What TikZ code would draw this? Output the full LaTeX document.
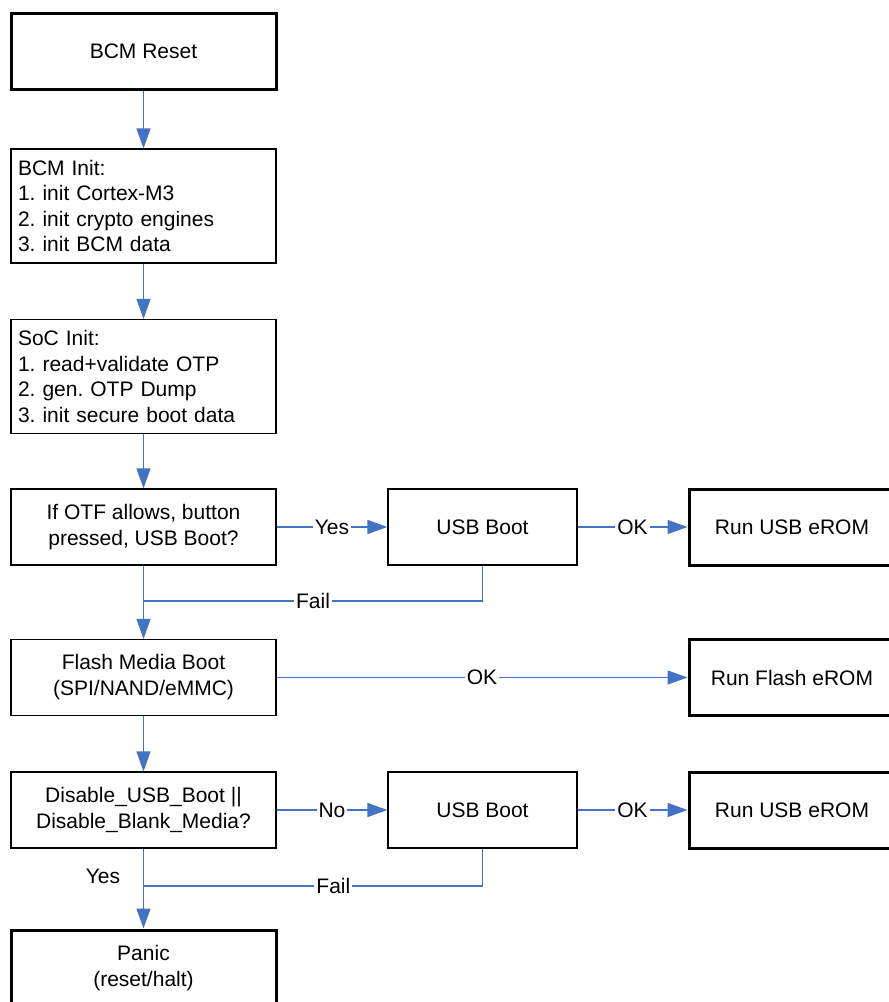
\documentclass[tikz,border=0pt]{standalone}
\usepackage{fontspec}
\setmainfont{Liberation Sans}
\usetikzlibrary{arrows.meta}
\definecolor{flow}{RGB}{68,114,196}
\frenchspacing
\begin{document}
\begin{tikzpicture}[x=1pt,y=-1pt,
  every node/.style={font=\fontsize{21}{26}\selectfont},
  box/.style={draw, line width=1.2pt, minimum width=265pt, minimum height=76pt, align=center, inner sep=0pt},
  heavy/.style={box, line width=3pt},
  listbox/.style={box, minimum height=114pt, align=left, text width=251pt, font=\fontsize{21}{25.5}\selectfont},
  sidebox/.style={box, minimum width=189pt},
  endbox/.style={heavy, minimum width=206pt},
  link/.style={draw=flow, line width=1.3pt},
  arr/.style={link, -{Triangle[length=20pt,width=14pt]}},
  lab/.style={fill=white, inner sep=2pt}]
\useasboundingbox (0,0) rectangle (889,1002);
\clip (0,0) rectangle (889,1002);

% main column
\node[heavy] (reset) at (143.5,51) {BCM Reset};
\node[listbox] (bcm) at (143.5,206) {BCM Init:\\1. init Cortex-M3\\2. init crypto engines\\3. init BCM data};
\node[listbox] (soc) at (143.5,376.5) {SoC Init:\\1. read+validate OTP\\2. gen. OTP Dump\\3. init secure boot data};
\node[box] (otf) at (143.5,527) {If OTF allows, button\\pressed, USB Boot?};
\node[box] (flash) at (143.5,677.5) {Flash Media Boot\\(SPI/NAND/eMMC)};
\node[box] (dis) at (143.5,810) {Disable\_USB\_Boot ||\\Disable\_Blank\_Media?};
\node[heavy] (panic) at (143.5,968) {Panic\\(reset/halt)};

% side branches
\node[sidebox] (usb1) at (482.5,527) {USB Boot};
\node[endbox] (run1) at (792,527) {Run USB eROM};
\node[endbox] (run2) at (792,677.5) {Run Flash eROM};
\node[sidebox] (usb2) at (482.5,810) {USB Boot};
\node[endbox] (run3) at (792,810) {Run USB eROM};

% junctions where failed USB boots rejoin
\coordinate (j1) at (143.5,601);
\coordinate (j2) at (143.5,886);

% connectors
\draw[arr] (reset) -- (bcm);
\draw[arr] (bcm) -- (soc);
\draw[arr] (soc) -- (otf);
\draw[arr] (otf) -- node[lab]{Yes} (usb1);
\draw[arr] (usb1) -- node[lab]{OK} (run1);
\draw[arr] (otf) -- (flash);
\draw[link] (usb1.south) |- node[lab, pos=0.75]{Fail} (j1);
\draw[arr] (flash) -- node[lab]{OK} (run2);
\draw[arr] (flash) -- (dis);
\draw[arr] (dis) -- node[lab]{No} (usb2);
\draw[arr] (usb2) -- node[lab]{OK} (run3);
\draw[arr] (dis) -- (panic);
\draw[link] (usb2.south) |- node[lab, pos=0.72]{Fail} (j2);
\node (yes) at (103,876) {Yes};
\end{tikzpicture}
\end{document}
